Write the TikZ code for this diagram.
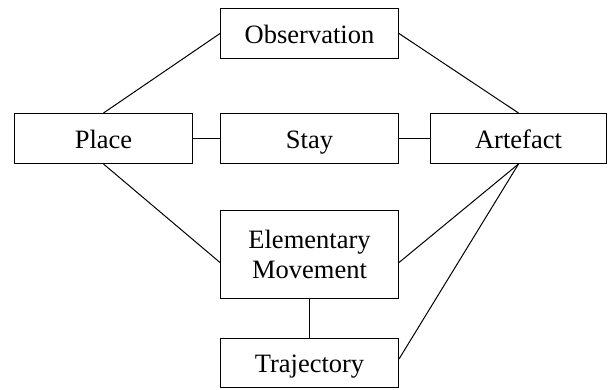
\documentclass[tikz,border=0pt]{standalone}
\usepackage{fontspec}
\setmainfont{Liberation Serif}
\usetikzlibrary{shapes}

\begin{document}
\begin{tikzpicture}[x = 1pt, y = -1pt, line width = 1pt, font=\fontsize{26.5}{30}\selectfont]
	\tikzstyle{boxStyle}=[shape = rectangle, draw, minimum width = 178pt, minimum height = 50pt, inner sep = 0pt, align = center]
	\tikzstyle{lineStyle}=[text height = 19pt, text depth = 0pt]
	\tikzstyle{linkStyle}=[draw]
	\useasboundingbox (0, 0) rectangle (608, 389);
	\node[boxStyle, lineStyle] (obs) at (309.5, 33.5) {Observation};
	\node[boxStyle, lineStyle] (place) at (103.5, 138.5) {Place};
	\node[boxStyle, lineStyle] (stay) at (309.5, 138.5) {Stay};
	\node[boxStyle, lineStyle, minimum width = 176pt] (art) at (518.5, 138.5) {Artefact};
	\node[boxStyle, minimum height = 88pt] (elem) at (309.5, 254.5) {Elementary\\Movement};
	\node[boxStyle, lineStyle, minimum height = 49pt] (traj) at (309.5, 363) {Trajectory};
	\path[linkStyle] (place.north) -- (obs.west);
	\path[linkStyle] (obs.east) -- (art.north);
	\path[linkStyle] (place.east) -- (stay.west);
	\path[linkStyle] (stay.east) -- (art.west);
	\path[linkStyle] (place.south) -- ([yshift=-8pt]elem.west);
	\path[linkStyle] (art.south) -- ([yshift=-8pt]elem.east);
	\path[linkStyle] (art.south) -- ([yshift=4pt]traj.east);
	\path[linkStyle] (elem.south) -- (traj.north);
\end{tikzpicture}
\end{document}
